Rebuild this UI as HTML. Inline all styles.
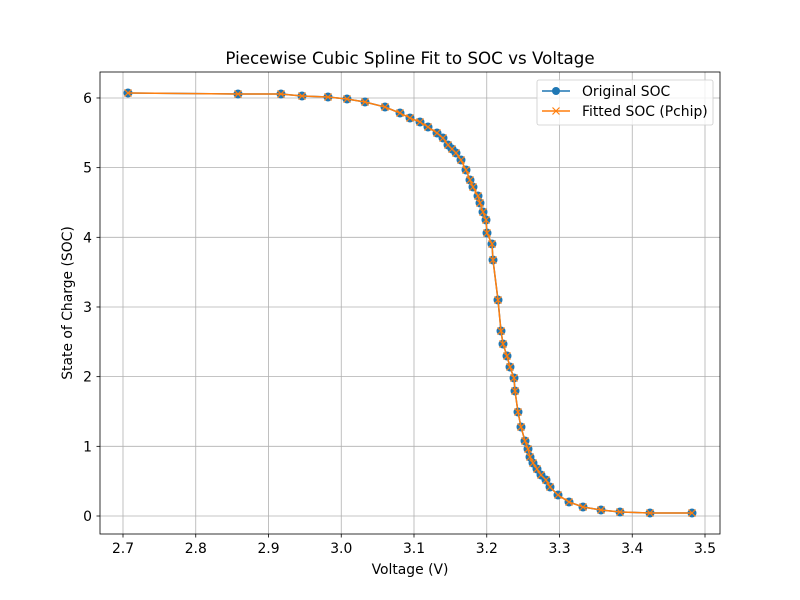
<!DOCTYPE html>
<html><head><meta charset="utf-8"><style>body{margin:0;background:#fff}svg{display:block;font-family:"DejaVu Sans","Liberation Sans",sans-serif}</style></head>
<body>
<svg id="s" width="800" height="600" viewBox="0 0 800 600">
<rect width="800" height="600" fill="#fff"/>
<g id="grid" stroke="#b0b0b0" stroke-width="0.8"></g>
<g id="ticks" font-size="13.9" fill="#000"></g>
<g id="data"></g>
<rect x="100" y="72" width="620" height="462" fill="none" stroke="#000" stroke-width="0.8"/>
<text x="410" y="64" font-size="16.7" text-anchor="middle">Piecewise Cubic Spline Fit to SOC vs Voltage</text>
<text x="410" y="574" font-size="13.9" text-anchor="middle">Voltage (V)</text>
<text transform="translate(72,303) rotate(-90)" font-size="13.9" text-anchor="middle">State of Charge (SOC)</text>
<g>
<rect x="537" y="80" width="176" height="45" rx="2" fill="#fff" fill-opacity="0.8" stroke="#ccc" stroke-width="0.8"/>
<line x1="542" y1="91" x2="570" y2="91" stroke="#1f77b4" stroke-width="1.5"/>
<circle cx="556" cy="91" r="4" fill="#1f77b4"/>
<text x="582" y="96" font-size="13.9">Original SOC</text>
<line x1="542" y1="111" x2="570" y2="111" stroke="#ff7f0e" stroke-width="1.5"/>
<path d="M552.5 107.5l7 7M559.5 107.5l-7 7" stroke="#ff7f0e" stroke-width="1.2"/>
<text x="582" y="116" font-size="13.9">Fitted SOC (Pchip)</text>
</g>
</svg>
<script>
var ns="http://www.w3.org/2000/svg";
function el(t,a,p){var e=document.createElementNS(ns,t);for(var k in a)e.setAttribute(k,a[k]);p.appendChild(e);return e;}
var g=document.getElementById('grid'),tk=document.getElementById('ticks');
var xl=['2.7','2.8','2.9','3.0','3.1','3.2','3.3','3.4','3.5'];
for(var i=0;i<9;i++){var x=123+i*72.75;el('line',{x1:x,y1:72,x2:x,y2:534},g);
el('line',{x1:x,y1:534,x2:x,y2:537.5,stroke:'#000','stroke-width':0.8},tk);
var t=el('text',{x:x,y:553,'text-anchor':'middle'},tk);t.textContent=xl[i];}
for(var j=0;j<7;j++){var y=516-j*69.67;el('line',{x1:100,y1:y,x2:720,y2:y},g);
el('line',{x1:96.5,y1:y,x2:100,y2:y,stroke:'#000','stroke-width':0.8},tk);
var t=el('text',{x:92,y:y+5,'text-anchor':'end'},tk);t.textContent=j;}
var P=[[128,93],[238,94],[281,94],[302,96],[328,97],[347,99],[365,102],[385,107],[400,113],[410,118],[420,122],[428,127],[437,133],[443,138],[448,145],[452,149],[456,153],[461,160],[466,170],[470,180],[473,187],[478,196],[480,203],[483,212],[486,220],[487,233],[492,244],[493,260],[498,300],[501,331],[503,344],[507,356],[510,367],[514,378],[515,391],[518,412],[521,427],[525,441],[528,449],[530,457],[533,463],[537,469],[541,475],[546,480],[550,487],[558,495],[569,502],[583,507],[601,510],[620,512],[650,513],[692,513]];
var d=document.getElementById('data');var pts=P.map(function(p){return p.join(',')}).join(' ');
el('polyline',{points:pts,fill:'none',stroke:'#1f77b4','stroke-width':1.5},d);
P.forEach(function(p){el('circle',{cx:p[0],cy:p[1],r:4.5,fill:'#1f77b4'},d);});
el('polyline',{points:pts,fill:'none',stroke:'#ff7f0e','stroke-width':1.5},d);
P.forEach(function(p){el('path',{d:'M'+(p[0]-3.5)+' '+(p[1]-3.5)+'l7 7M'+(p[0]+3.5)+' '+(p[1]-3.5)+'l-7 7',stroke:'#ff7f0e','stroke-width':1.2},d);});
</script>
</body></html>
